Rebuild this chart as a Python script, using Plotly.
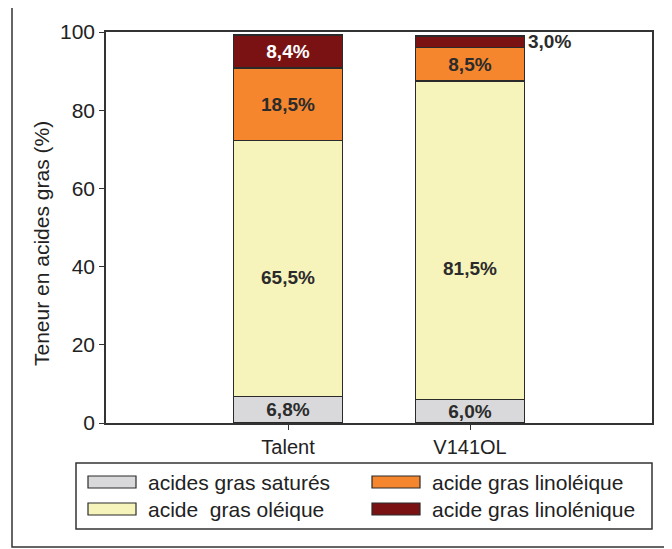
import plotly.graph_objects as go

categories = ["Talent", "V141OL"]
series_names = ["acides gras saturés", "acide  gras oléique", "acide gras linoléique", "acide gras linolénique"]
saturés = [6.8, 6.0]
oléique = [65.5, 81.5]
linoléique = [18.5, 8.5]
linolénique = [8.4, 3.0]
series_values = [saturés, oléique, linoléique, linolénique]
colors = ["#d9d9db", "#f7f4bb", "#f5862e", "#7a1214"]
label_colors = ["#2b2b2b", "#2b2b2b", "#2b2b2b", "#ffffff"]
y_ticks = [0, 20, 40, 60, 80, 100]
oleic_label_shift = [-9, -28]  # px, label placement as in the original

FONT = "Liberation Sans"
OFF = 8  # browser body margin

def fmt(v):
    return f"{v:.1f}".replace(".", ",") + "%"

fig = go.Figure()
for i, (name, vals) in enumerate(zip(series_names, series_values)):
    texts = [fmt(v) for v in vals]
    if i == 1:
        texts = ["", ""]  # placed by annotations below
    if i == 3:
        texts = [texts[0], ""]  # V141OL label placed outside
    fig.add_trace(go.Bar(
        x=categories, y=vals, name=name,
        marker=dict(color=colors[i], line=dict(color="#2a2a2a", width=1.5)),
        width=0.6,
        text=texts, textposition="inside", insidetextanchor="middle",
        textangle=0, constraintext="none",
        textfont=dict(family=FONT, size=19, color=label_colors[i], weight="bold"),
        showlegend=False, hoverinfo="skip",
    ))

# oleic labels
for j, cat in enumerate(categories):
    fig.add_annotation(x=cat, y=saturés[j] + oléique[j] / 2, text=fmt(oléique[j]),
                       xanchor="center", yanchor="middle", yshift=oleic_label_shift[j], showarrow=False,
                       font=dict(family=FONT, size=19, color="#2b2b2b", weight="bold"))

# outside label for V141OL linolénique
top_base = saturés[1] + oléique[1] + linoléique[1]
fig.add_annotation(x=categories[1], y=top_base + linolénique[1] / 2, text=fmt(linolénique[1]),
                   xanchor="left", yanchor="middle", xshift=56, showarrow=False,
                   font=dict(family=FONT, size=19, color="#2b2b2b", weight="bold"))

# target page coordinates
L, R, T, B = 106, 652, 32, 423
W, H = 672, 549
pw, ph = R - L, B - T

def px(x):
    return (x - L) / pw

def py(y):
    return (B - y) / ph

# y axis title
fig.add_annotation(x=px(41), y=py(244), xref="paper", yref="paper", text="Teneur en acides gras (%)",
                   textangle=-90, showarrow=False, xanchor="center", yanchor="middle",
                   font=dict(family=FONT, size=21, color="#222222"))

shapes = []
# outer frame
shapes.append(dict(type="rect", xref="paper", yref="paper", x0=px(12), x1=px(667), y0=py(7), y1=py(547),
                   line=dict(color="#333333", width=1.5), layer="below"))
# legend box
shapes.append(dict(type="rect", xref="paper", yref="paper", x0=px(76), x1=px(652), y0=py(463), y1=py(529),
                   line=dict(color="#333333", width=1.5)))
legend_pos = [(88, 482), (88, 509), (372, 482), (372, 509)]
for i, name in enumerate(series_names):
    sx, sy = legend_pos[i]
    shapes.append(dict(type="rect", xref="paper", yref="paper", x0=px(sx), x1=px(sx + 48),
                       y0=py(sy - 6), y1=py(sy + 6), fillcolor=colors[i],
                       line=dict(color="#2a2a2a", width=1.2)))
    fig.add_annotation(x=px(sx + 58), y=py(sy), xref="paper", yref="paper", text=name,
                       showarrow=False, xanchor="left", yanchor="middle",
                       font=dict(family=FONT, size=21, color="#222222"))

fig.update_layout(
    width=W - OFF, height=H - OFF, barmode="stack",
    margin=dict(l=L - OFF, r=W - R, t=T - OFF, b=H - B),
    paper_bgcolor="white", plot_bgcolor="white",
    shapes=shapes,
    font=dict(family=FONT, size=20, color="#222222"),
    xaxis=dict(range=[-1, 2], showline=True, linecolor="#333333", linewidth=1.5, mirror=True,
               ticks="outside", ticklen=5, tickcolor="#333333", tickwidth=1.2,
               tickfont=dict(family=FONT, size=20, color="#222222"), showgrid=False, fixedrange=True),
    yaxis=dict(range=[0, 100], tickvals=y_ticks, showline=True, linecolor="#333333", linewidth=1.5,
               mirror=True, ticks="outside", ticklen=5, tickcolor="#333333", tickwidth=1.2,
               tickfont=dict(family=FONT, size=21, color="#222222"), showgrid=False, zeroline=False,
               fixedrange=True),
)

fig.write_html("out.html")
